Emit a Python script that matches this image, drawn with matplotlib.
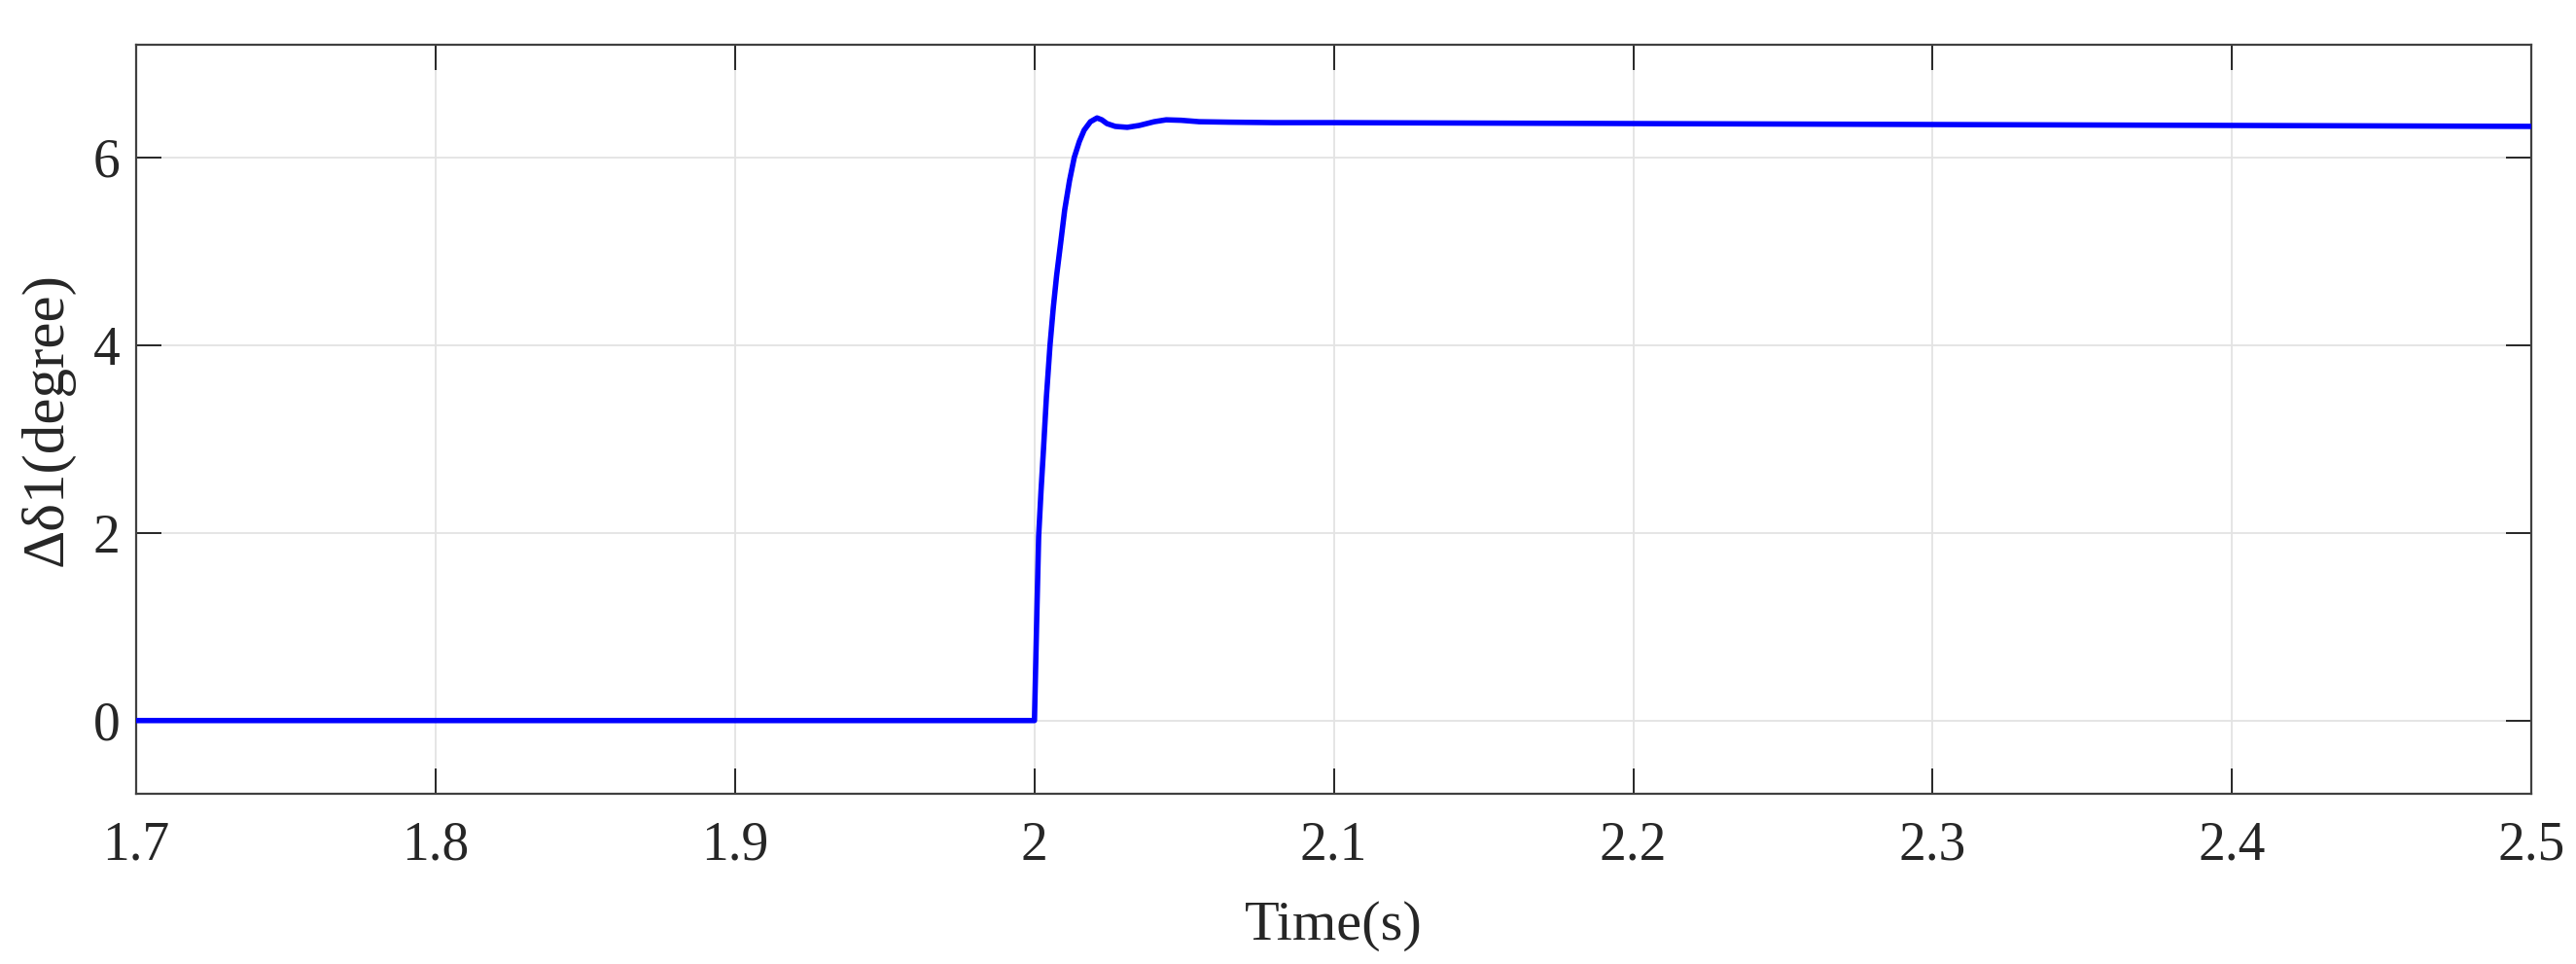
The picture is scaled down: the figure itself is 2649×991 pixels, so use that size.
"""
Rotor angle deviation after step disturbance
"""
import matplotlib
matplotlib.use('Agg')
import matplotlib.pyplot as plt

# Values
time_s = [1.7, 2.0, 2.0007, 2.0014, 2.0022, 2.003, 2.004, 2.0052, 2.0063, 2.0074,
          2.0088, 2.0101, 2.0117, 2.0133, 2.015, 2.0166, 2.0187, 2.0209, 2.0225,
          2.0242, 2.027, 2.031, 2.035, 2.040, 2.044, 2.049, 2.055, 2.065, 2.08,
          2.1, 2.2, 2.3, 2.4, 2.5]
delta1 = [0, 0, 1.0, 1.96, 2.45, 2.88, 3.45, 4.0, 4.4, 4.74,
          5.1, 5.44, 5.75, 6.0, 6.17, 6.29, 6.38, 6.42, 6.40,
          6.36, 6.33, 6.32, 6.34, 6.38, 6.40, 6.395, 6.38, 6.375, 6.37,
          6.37, 6.36, 6.35, 6.34, 6.33]
x_ticks = [1.7, 1.8, 1.9, 2.0, 2.1, 2.2, 2.3, 2.4, 2.5]
x_labels = ['1.7', '1.8', '1.9', '2', '2.1', '2.2', '2.3', '2.4', '2.5']
y_ticks = [0, 2, 4, 6]

plt.rcParams['font.family'] = ['Liberation Serif', 'DejaVu Serif']

fig = plt.figure(figsize=(26.49, 9.91), dpi=100)
ax = fig.add_axes([0.0529, 0.1766, 0.9298, 0.777])

ax.plot(time_s, delta1, color='#0000ff', linewidth=4.0, zorder=3)

ax.set_xlim(1.7, 2.5)
ax.set_ylim(-0.78, 7.2)
ax.set_xticks(x_ticks)
ax.set_xticklabels(x_labels)
ax.set_yticks(y_ticks)

ax.grid(True, color='#e3e3e3', linewidth=1.3)
ax.tick_params(direction='in', length=19, width=1.4, colors='#262626',
               labelsize=40, top=True, right=True)
ax.tick_params(axis='x', pad=20)
ax.tick_params(axis='y', pad=12)
for s in ax.spines.values():
    s.set_color('#404040')
    s.set_linewidth(1.6)

ax.set_xlabel('Time(s)', fontsize=42, color='#262626', labelpad=22)
ax.set_ylabel('Δδ1(degree)', fontsize=44, color='#262626', labelpad=14)

fig.savefig('out.png', dpi=100)
